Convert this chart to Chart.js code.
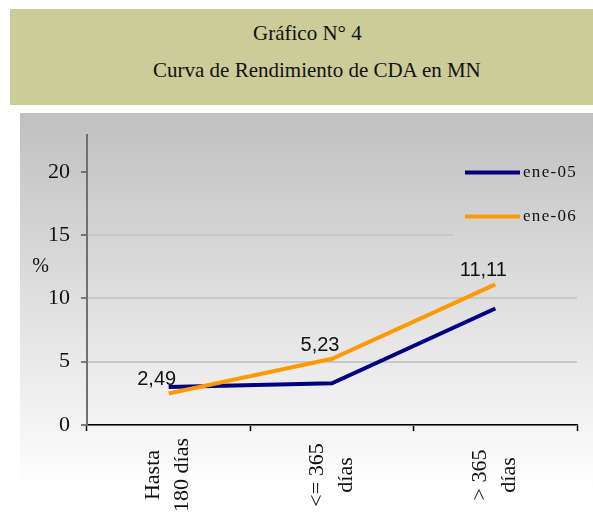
<!DOCTYPE html>
<html>
<head>
<meta charset="utf-8">
<script src="https://cdn.jsdelivr.net/npm/chart.js@4.4.0/dist/chart.umd.min.js"></script>
<style>
    body { margin: 0; background: #fff; }
    #band {
        position: absolute; left: 10px; top: 9px; width: 583px; height: 96px;
        background: #cccc99; font-family: 'Times New Roman', 'Liberation Serif', 'DejaVu Serif', serif;
        font-size: 21px; color: #111;
    }
    #band div { position: absolute; white-space: nowrap; }
    #myChart { position: absolute; left: 0; top: 0; }
</style>
</head>
<body>
<div id="band">
    <div id="t1" style="left:243px; top:12px;">Gráfico N° 4</div>
    <div id="t2" style="left:143px; top:49px;">Curva de Rendimiento de CDA en MN</div>
</div>
<canvas id="myChart" width="593" height="516"></canvas>
<script>
var categories = [['Hasta', '180 días'], ['<= 365', 'días'], ['> 365', 'días']];
var seriesNames = ['ene-05', 'ene-06'];
var ene05 = [3.0, 3.3, 9.2];
var ene06 = [2.49, 5.23, 11.11];
var yTicks = [0, 5, 10, 15, 20];
var colors = ['#000080', '#ff9900'];

var SERIF = '"Times New Roman", "Liberation Serif", "DejaVu Serif", serif';
var SANS = 'Arial, "Liberation Sans", sans-serif';

document.addEventListener('DOMContentLoaded', function() {
    var ctx = document.getElementById('myChart').getContext('2d');

    function makeGradient(c) {
        var g = c.createLinearGradient(0, 113, 0, 490);
        g.addColorStop(0, '#c0c0c0');
        g.addColorStop(1, '#ffffff');
        return g;
    }

    // фон, подписи, легенда
    var decor = {
        id: 'decor',
        beforeDraw: function(chart) {
            var c = chart.ctx;
            c.save();
            c.fillStyle = makeGradient(c);
            c.fillRect(20, 113, 573, 403);
            c.restore();
        },
        afterDatasetsDraw: function(chart) {
            var c = chart.ctx;
            c.save();
            // значения ene-06
            var meta = chart.getDatasetMeta(1);
            c.font = '20px ' + SANS;
            c.fillStyle = '#111';
            c.textAlign = 'center';
            c.textBaseline = 'alphabetic';
            meta.data.forEach(function(p, i) {
                var txt = ene06[i].toFixed(2).replace('.', ',');
                c.fillText(txt, p.x - 12, p.y - 8);
            });
            c.restore();
        },
        afterDraw: function(chart) {
            var c = chart.ctx;
            var xs = chart.scales.x;
            c.save();
            // подписи категорий
            c.font = '22px ' + SERIF;
            c.fillStyle = '#111';
            c.textAlign = 'center';
            c.textBaseline = 'middle';
            categories.forEach(function(lines, i) {
                var x = xs.getPixelForValue(i);
                c.save();
                c.translate(x, 475);
                c.rotate(-Math.PI / 2);
                c.fillText(lines[0], 0, -15);
                c.fillText(lines[1], 0, 14);
                c.restore();
            });
            // %
            c.font = '20px ' + SERIF;
            c.fillText('%', 40.5, 267);

            // легенда
            c.fillStyle = makeGradient(c);
            c.fillRect(453, 140, 140, 105);
            var ly = [172.5, 216.5];
            c.font = '17px ' + SERIF;
            c.textAlign = 'left';
            c.letterSpacing = '1.3px';
            for (var i = 0; i < seriesNames.length; i++) {
                c.strokeStyle = colors[i];
                c.lineWidth = 4;
                c.beginPath();
                c.moveTo(465, ly[i]);
                c.lineTo(520, ly[i]);
                c.stroke();
                c.fillStyle = '#111';
                c.fillText(seriesNames[i], 523, ly[i]);
            }
            c.restore();
        }
    };

    var myChart = new Chart(ctx, {
        type: 'line',
        data: {
            labels: categories.map(function(l) { return l.join(' '); }),
            datasets: [{
                label: seriesNames[0],
                data: ene05,
                borderColor: colors[0],
                borderWidth: 4,
                pointRadius: 0,
                tension: 0,
                order: 1
            }, {
                label: seriesNames[1],
                data: ene06,
                borderColor: colors[1],
                borderWidth: 4,
                pointRadius: 0,
                tension: 0,
                order: 0
            }]
        },
        options: {
            responsive: false,
            animation: false,
            layout: { padding: { top: 135, right: 16, left: 0, bottom: 0 } },
            plugins: {
                legend: { display: false },
                tooltip: { enabled: false }
            },
            scales: {
                x: {
                    offset: true,
                    grid: {
                        drawOnChartArea: false,
                        offset: true,
                        tickLength: 6,
                        tickColor: '#000',
                        tickWidth: 1.5
                    },
                    border: { color: '#000', width: 1.5 },
                    ticks: { display: false },
                    afterFit: function(s) { s.height = 91; }
                },
                y: {
                    min: 0,
                    max: 22.9,
                    afterBuildTicks: function(s) {
                        s.ticks = yTicks.map(function(v) { return { value: v }; });
                    },
                    afterFit: function(s) { s.width = 87; },
                    grid: {
                        color: '#c8c8c8',
                        lineWidth: 2,
                        tickLength: 6,
                        tickColor: '#555',
                        tickWidth: 1.5
                    },
                    border: { color: '#707070', width: 2 },
                    ticks: {
                        padding: 11,
                        color: '#111',
                        font: { family: SERIF, size: 22 }
                    }
                }
            }
        },
        plugins: [decor]
    });
});
</script>
</body>
</html>
